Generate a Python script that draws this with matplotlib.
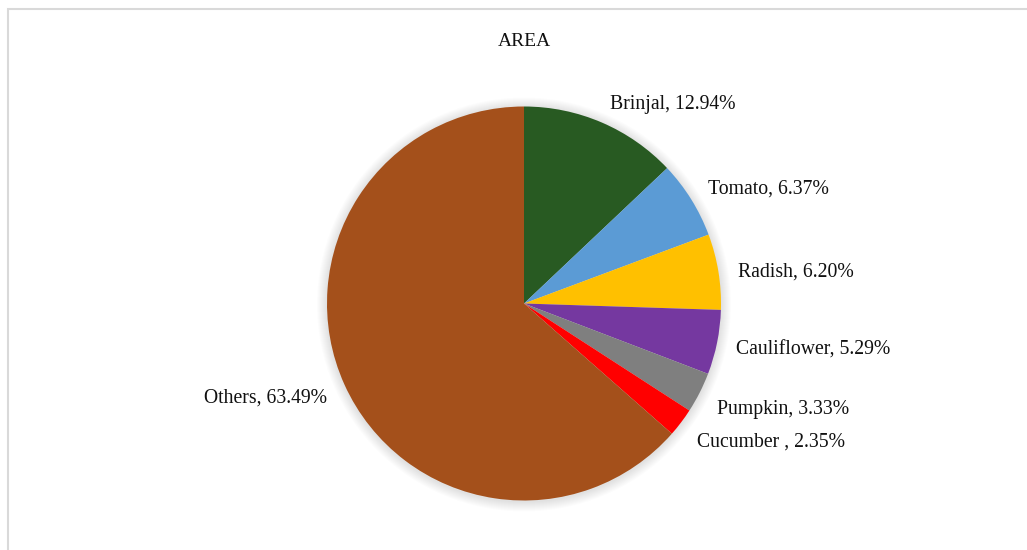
import matplotlib.pyplot as plt
from matplotlib.patches import Circle, Rectangle

crops = ['Brinjal', 'Tomato', 'Radish', 'Cauliflower', 'Pumpkin', 'Cucumber ', 'Others']
shares = [12.94, 6.37, 6.20, 5.29, 3.33, 2.35, 63.49]
colors = ['#285A22', '#5B9BD5', '#FFC000', '#7538A0', '#7F7F7F', '#FF0000', '#A4501B']

labels = [f'{c}, {v:.2f}%' for c, v in zip(crops, shares)]

plt.rcParams['font.family'] = ['Liberation Serif', 'DejaVu Serif']

fig = plt.figure(figsize=(10.27, 5.5), dpi=100)
ax = fig.add_axes([0, 0, 1, 1])

cx, cy, r = 524, 246.5, 197

# soft shadow round the pie
for k in range(10, 0, -1):
    ax.add_patch(Circle((cx, cy - 1), r + k, color='black', alpha=0.012, lw=0, zorder=0))

wedges, texts = ax.pie(shares, labels=labels, colors=colors, startangle=90, counterclock=False,
                       center=(cx, cy), radius=r, labeldistance=1.1, frame=True,
                       wedgeprops=dict(linewidth=0), textprops=dict(fontsize=14.2, color='#111111'))

# excel-like label placement: align by side, lower labels sit a bit further down
nudge = {'Radish': -4, 'Cauliflower': -4, 'Pumpkin': -8, 'Cucumber ': -8, 'Others': -5}
for t, c in zip(texts, crops):
    x, y = t.get_position()
    t.set_ha('left' if x > cx else 'right')
    t.set_position((x, y + nudge.get(c, 0)))

ax.set_xlim(0, 1027)
ax.set_ylim(0, 550)
ax.set_aspect('equal')
ax.axis('off')

ax.text(cx, 509, 'AREA', ha='center', va='center', fontsize=14, color='#111111')

fig.patches.append(Rectangle((8 / 1027, -0.1), 1.1, (550 - 9) / 550 + 0.1,
                             transform=fig.transFigure, fill=False,
                             edgecolor='#D9D9D9', linewidth=1.5))

fig.savefig('out.png', dpi=100)
